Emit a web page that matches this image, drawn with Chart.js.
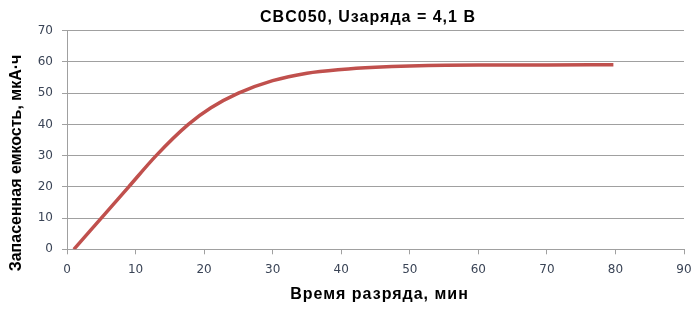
<!DOCTYPE html>
<html>
<head>
<meta charset="utf-8">
<script src="https://cdn.jsdelivr.net/npm/chart.js@4/dist/chart.umd.min.js"></script>
<style>
html,body{margin:0;padding:0;background:#fff;}
#wrap{width:700px;height:313px;position:relative;}
</style>
</head>
<body>
<div id="wrap"><canvas id="c" width="700" height="313"></canvas></div>
<script>
// Data
const timeMin = [1, 5, 9, 13, 17.7, 21, 25, 30, 35, 40, 45, 50, 60, 70, 79.7];
const capacity = [0, 10, 20, 30, 40, 45.3, 50, 54, 56.4, 57.6, 58.3, 58.7, 59, 59, 59.1];
const xTicks = [0, 10, 20, 30, 40, 50, 60, 70, 80, 90];
const yTicks = [0, 10, 20, 30, 40, 50, 60, 70];
const chartTitle = 'CBC050, Uзаряда = 4,1 В';
const xTitle = 'Время разряда, мин';
const yTitle = 'Запасенная емкость, мкА·ч';

const points = timeMin.map((t, i) => ({x: t, y: capacity[i]}));

const titlesPlugin = {
  id: 'titles',
  afterDraw(chart) {
    const ctx = chart.ctx;
    const font = 'bold 16px "Liberation Sans", Arial, sans-serif';
    ctx.save();
    ctx.fillStyle = '#000';
    ctx.textAlign = 'center';
    ctx.textBaseline = 'alphabetic';
    ctx.font = font;
    // main title
    ctx.letterSpacing = '1px';
    ctx.fillText(chartTitle, 368, 21.7);
    // x axis title
    ctx.fillText(xTitle, 379.5, 298.7);
    // y axis title
    ctx.letterSpacing = '0px';
    ctx.translate(21, 163);
    ctx.rotate(-Math.PI / 2);
    ctx.fillText(yTitle, 0, 0);
    ctx.restore();
  }
};

new Chart(document.getElementById('c'), {
  type: 'scatter',
  data: {
    datasets: [{
      data: points,
      showLine: true,
      borderColor: '#C0504D',
      backgroundColor: '#C0504D',
      borderWidth: 3.5,
      pointRadius: 0,
      cubicInterpolationMode: 'monotone',
      borderCapStyle: 'butt'
    }]
  },
  options: {
    responsive: false,
    animation: false,
    layout: {padding: {left: 0, right: 16, top: 30.7, bottom: 0}},
    plugins: {
      legend: {display: false},
      tooltip: {enabled: false},
      title: {display: false}
    },
    scales: {
      x: {
        type: 'linear',
        min: 0, max: 90,
        afterBuildTicks(scale) { scale.ticks = xTicks.map(v => ({value: v})); },
        afterFit(scale) { scale.height = 63.7; },
        border: {display: true, color: '#a0a0a0', width: 1},
        grid: {drawOnChartArea: false, drawTicks: true, tickLength: 5, color: '#a0a0a0'},
        ticks: {color: '#3a4456', font: {family: '"DejaVu Sans", Verdana, sans-serif', size: 12}, padding: 8, maxRotation: 0},
        title: {display: false}
      },
      y: {
        min: 0, max: 70,
        afterBuildTicks(scale) { scale.ticks = yTicks.map(v => ({value: v})); },
        afterFit(scale) { scale.width = 67; },
        border: {display: true, color: '#a0a0a0', width: 1},
        grid: {drawOnChartArea: true, drawTicks: true, tickLength: 5, color: '#a0a0a0'},
        ticks: {color: '#3a4456', font: {family: '"DejaVu Sans", Verdana, sans-serif', size: 12}, padding: 9}
      }
    }
  },
  plugins: [titlesPlugin]
});
</script>
</body>
</html>
